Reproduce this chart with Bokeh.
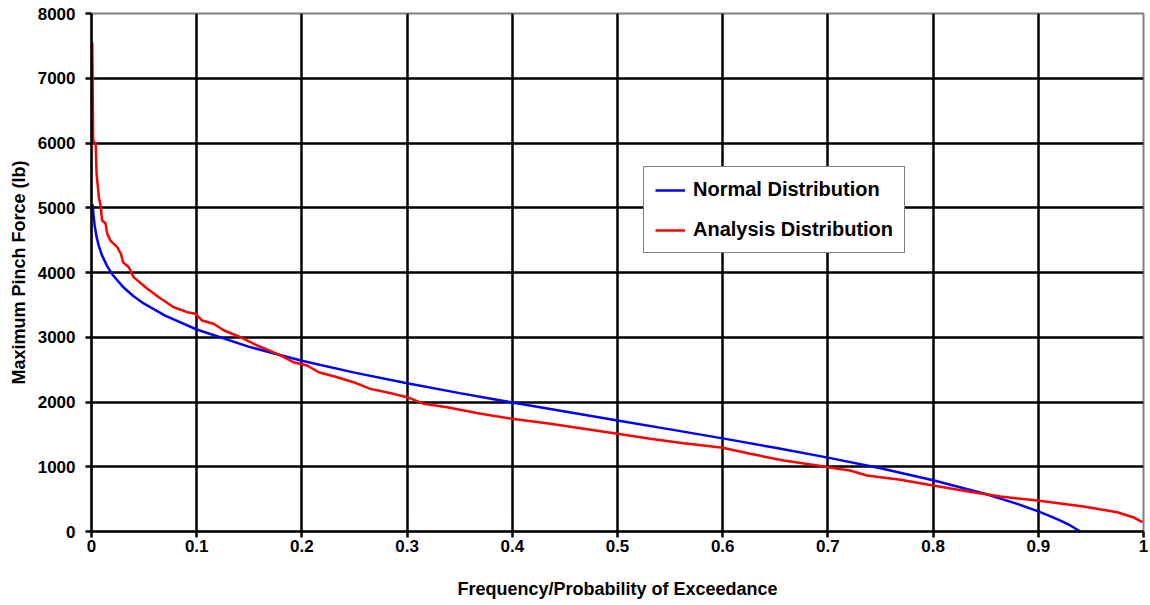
from bokeh.plotting import figure
from bokeh.models import Range1d, FixedTicker, CustomJSTickFormatter, Legend, LegendItem
from bokeh.embed import file_html
from bokeh.resources import INLINE

# Normal distribution curve
normal_x = [0.0012, 0.002, 0.003, 0.005, 0.007, 0.01, 0.015, 0.02, 0.03, 0.04, 0.05, 0.07, 0.1,
            0.15, 0.2, 0.25, 0.3, 0.35, 0.4, 0.45, 0.5, 0.55, 0.6, 0.65, 0.7, 0.75, 0.8, 0.85,
            0.88, 0.9, 0.91, 0.92, 0.93, 0.94]
normal_y = [5050, 4869, 4727, 4538, 4408, 4264, 4094, 3966, 3777, 3634, 3518, 3333, 3120,
            2851, 2638, 2454, 2289, 2137, 1992, 1853, 1715, 1577, 1438, 1293, 1141, 976, 792, 579,
            427, 310, 245, 175, 97, 0]

# Analysis distribution curve
analysis_x = [0.0007, 0.0016, 0.004, 0.0048, 0.007, 0.0086, 0.0101, 0.0133, 0.0149, 0.018,
              0.0244, 0.028, 0.030, 0.0355, 0.040, 0.0513, 0.064, 0.0782, 0.091, 0.0989,
              0.105, 0.116, 0.126, 0.1416, 0.1575, 0.1765, 0.192, 0.205, 0.216, 0.2336,
              0.249, 0.265, 0.287, 0.300, 0.316, 0.338, 0.370, 0.400, 0.436, 0.468,
              0.500, 0.531, 0.563, 0.600, 0.626, 0.658, 0.690, 0.700, 0.721, 0.737,
              0.769, 0.800, 0.832, 0.864, 0.899, 0.943, 0.975, 0.990, 0.999]
analysis_y = [7557, 6040, 5980, 5530, 5163, 5035, 4803, 4762, 4600, 4494,
              4391, 4288, 4159, 4082, 3928, 3773, 3618, 3464, 3387, 3362,
              3259, 3208, 3104, 3001, 2873, 2744, 2615, 2564, 2460, 2383,
              2306, 2203, 2126, 2074, 1972, 1920, 1818, 1740, 1663, 1586,
              1509, 1432, 1364, 1293, 1200, 1097, 1019, 993, 942, 865,
              798, 710, 622, 540, 479, 386, 298, 221, 144]

x_ticks = [0, 0.1, 0.2, 0.3, 0.4, 0.5, 0.6, 0.7, 0.8, 0.9, 1]
y_ticks = [0, 1000, 2000, 3000, 4000, 5000, 6000, 7000, 8000]
series_names = ["Normal Distribution", "Analysis Distribution"]

FONT = "Liberation Sans"

p = figure(width=1150, height=605, output_backend="svg", toolbar_location=None,
           x_range=Range1d(0, 1), y_range=Range1d(0, 8000),
           min_border_left=91, min_border_right=7, min_border_top=13, min_border_bottom=74)

p.outline_line_color = "#808080"
p.outline_line_width = 2

# grid
p.xgrid.ticker = FixedTicker(ticks=x_ticks[1:-1])
p.ygrid.ticker = FixedTicker(ticks=y_ticks[1:-1])
for g in (p.xgrid, p.ygrid):
    g.grid_line_color = "black"
    g.grid_line_width = 2.5

# axes
p.xaxis.ticker = FixedTicker(ticks=x_ticks)
p.xaxis.formatter = CustomJSTickFormatter(code="return tick.toFixed(1).replace(/\\.0$/, '');")
p.yaxis.ticker = FixedTicker(ticks=y_ticks)
for ax in (p.xaxis, p.yaxis):
    ax.axis_line_color = "black"
    ax.axis_line_width = 2.5
    ax.major_tick_line_color = "black"
    ax.major_tick_line_width = 2.5
    ax.major_tick_out = 6
    ax.major_tick_in = 0
    ax.minor_tick_line_color = None
    ax.major_label_text_font = FONT
    ax.major_label_text_font_style = "bold"
    ax.major_label_text_font_size = "17px"
    ax.major_label_text_color = "black"
    ax.axis_label_text_font = FONT
    ax.axis_label_text_font_style = "bold"
    ax.axis_label_text_font_size = "18px"
    ax.axis_label_text_color = "black"

p.xaxis.axis_label = "Frequency/Probability of Exceedance"
p.yaxis.axis_label = "Maximum Pinch Force (lb)"
p.xaxis.major_label_standoff = 2
p.yaxis.major_label_standoff = 10
p.xaxis.axis_label_standoff = 24
p.yaxis.axis_label_standoff = 6

r_normal = p.line(normal_x, normal_y, line_color="#0000ff", line_width=2.5)
r_analysis = p.line(analysis_x, analysis_y, line_color="#ff0000", line_width=2.5)

legend = Legend(items=[LegendItem(label=series_names[0], renderers=[r_normal]),
                       LegendItem(label=series_names[1], renderers=[r_analysis])],
                location=(552, 278))
legend.border_line_color = "black"
legend.border_line_width = 1
legend.background_fill_color = "white"
legend.background_fill_alpha = 1
legend.label_text_font = FONT
legend.label_text_font_style = "bold"
legend.label_text_font_size = "20px"
legend.label_text_color = "black"
legend.glyph_width = 30
legend.label_standoff = 8
legend.padding = 11
legend.spacing = 17
legend.margin = 0
p.add_layout(legend, "center")

open("out.html", "w").write(file_html(p, INLINE))
